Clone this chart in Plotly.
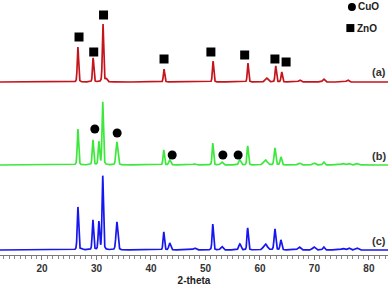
import numpy as np
import plotly.graph_objects as go

# ---- data ----
# peak tables: 2-theta position, height (arbitrary units), FWHM (deg)
a_pos = [26.6, 29.4, 31.2, 31.8, 42.4, 51.4, 57.8, 61.2, 62.9, 64.0, 67.3, 71.7, 76.1]
a_hgt = [35, 24, 58, 3, 13, 21, 19, 4, 16, 10, 2, 3, 2]
a_fw = [0.28, 0.28, 0.28, 0.4, 0.28, 0.28, 0.28, 0.6, 0.3, 0.3, 0.5, 0.5, 0.5]

b_pos = [26.6, 29.35, 30.45, 31.15, 33.75, 42.35, 43.45, 48.0, 51.35, 53.0, 56.3, 57.75,
         61.0, 62.75, 63.85, 67.2, 69.9, 71.7, 75.2, 76.3, 77.8]
b_hgt = [36, 25, 23, 63, 23, 15, 5, 1, 22, 3, 5, 19, 5, 17, 8, 2, 2, 3, 1.5, 1.5, 1.5]
b_fw = [0.3, 0.3, 0.3, 0.3, 0.4, 0.3, 0.4, 0.6, 0.3, 0.5, 0.45, 0.3, 0.8, 0.35, 0.35,
        0.6, 0.6, 0.4, 0.6, 0.6, 0.6]

c_pos = [26.6, 27.3, 29.35, 30.45, 31.15, 33.75, 42.35, 43.45, 48.0, 51.35, 53.0, 56.3,
         57.75, 61.0, 62.75, 63.85, 67.2, 69.9, 71.7, 75.2, 76.3, 77.8]
c_hgt = [43, 1, 30, 28, 74, 28, 18, 7, 2, 26, 3.5, 6, 22, 6, 21, 10, 3, 3, 3, 1.5, 2, 2]
c_fw = [0.3, 0.4, 0.3, 0.3, 0.3, 0.4, 0.3, 0.4, 0.6, 0.3, 0.5, 0.45, 0.3, 0.8, 0.35, 0.35,
        0.6, 0.6, 0.4, 0.6, 0.6, 0.6]

offsets = {"a": 173, "b": 90, "c": 5}

# phase markers (2-theta, height on plot scale)
zno_x = [26.8, 29.5, 31.3, 42.4, 51.0, 57.2, 62.75, 64.8]
zno_y = [218, 203, 240, 196, 203, 200, 196, 193]
cuo_x = [29.7, 33.8, 43.9, 53.2, 56.0]
cuo_y = [126, 122, 100, 100, 100]

tick_vals = [20, 30, 40, 50, 60, 70, 80]

# ---- build profiles ----
x = np.linspace(12.3, 83.5, 4000)


def profile(pos, hgt, fw):
    y = np.zeros_like(x)
    for p, h, w in zip(pos, hgt, fw):
        g = np.exp(-4 * np.log(2) * (x - p) ** 2 / w ** 2)
        l = 1 / (1 + 4 * (x - p) ** 2 / w ** 2)
        y += h * (0.75 * g + 0.25 * l)
    return y


fig = go.Figure()
series = [("a", a_pos, a_hgt, a_fw, "#c4141c"),
          ("b", b_pos, b_hgt, b_fw, "#3ce83c"),
          ("c", c_pos, c_hgt, c_fw, "#1616f0")]
for name, pos, hgt, fw, col in series:
    fig.add_trace(go.Scatter(x=x, y=profile(pos, hgt, fw) + offsets[name], mode="lines",
                             line=dict(color=col, width=1.7), showlegend=False,
                             hoverinfo="skip"))

fig.add_trace(go.Scatter(x=zno_x, y=zno_y, mode="markers",
                         marker=dict(symbol="square", size=9, color="black"),
                         showlegend=False, cliponaxis=False))
fig.add_trace(go.Scatter(x=cuo_x, y=cuo_y, mode="markers",
                         marker=dict(symbol="circle", size=9, color="black"),
                         showlegend=False, cliponaxis=False))

# legend marks on an overlay unit axis
fig.add_trace(go.Scatter(x=[0.907], y=[0.973], xaxis="x2", yaxis="y2", mode="markers",
                         marker=dict(symbol="circle", size=8, color="black"),
                         showlegend=False, cliponaxis=False))
fig.add_trace(go.Scatter(x=[0.903], y=[0.890], xaxis="x2", yaxis="y2", mode="markers",
                         marker=dict(symbol="square", size=8, color="black"),
                         showlegend=False, cliponaxis=False))

font = "Liberation Sans, Arial, sans-serif"
ann = [
    dict(x=0.918, y=0.973, text="<b>CuO</b>", xanchor="left", yanchor="middle",
         font=dict(size=10, color="#222")),
    dict(x=0.916, y=0.890, text="<b>ZnO</b>", xanchor="left", yanchor="middle",
         font=dict(size=10, color="#222")),
    dict(x=1.0, y=0.718, text="<b>(a)</b>", xanchor="right", yanchor="middle",
         font=dict(size=11, color="#333")),
    dict(x=1.0, y=0.388, text="<b>(b)</b>", xanchor="right", yanchor="middle",
         font=dict(size=11, color="#333")),
    dict(x=1.0, y=0.055, text="<b>(c)</b>", xanchor="right", yanchor="middle",
         font=dict(size=11, color="#333")),
]
for a in ann:
    a.update(xref="paper", yref="paper", showarrow=False)

fig.update_layout(
    width=392, height=286,
    margin=dict(l=0, r=4, t=0, b=31),
    paper_bgcolor="white", plot_bgcolor="white",
    font=dict(family=font, color="#333"),
    xaxis=dict(range=[12.3, 83.5], showgrid=False, zeroline=False,
               showline=True, linecolor="#777", linewidth=1,
               ticks="outside", ticklen=4, tickcolor="#777",
               tickvals=tick_vals, ticktext=[f"<b>{v}</b>" for v in tick_vals],
               tickfont=dict(size=10, color="#333"),
               minor=dict(dtick=1, ticks="outside", ticklen=2.5, tickcolor="#888"),
               title=dict(text="<b>2-theta</b>", font=dict(size=10, color="#222"),
                          standoff=4)),
    yaxis=dict(range=[0, 255], visible=False, fixedrange=True),
    xaxis2=dict(range=[0, 1], overlaying="x", visible=False),
    yaxis2=dict(range=[0, 1], overlaying="y", visible=False),
    annotations=ann,
)

fig.write_html("out.html", config={"displayModeBar": False},
               post_script="document.body.style.margin='0';document.body.style.overflow='hidden';")
